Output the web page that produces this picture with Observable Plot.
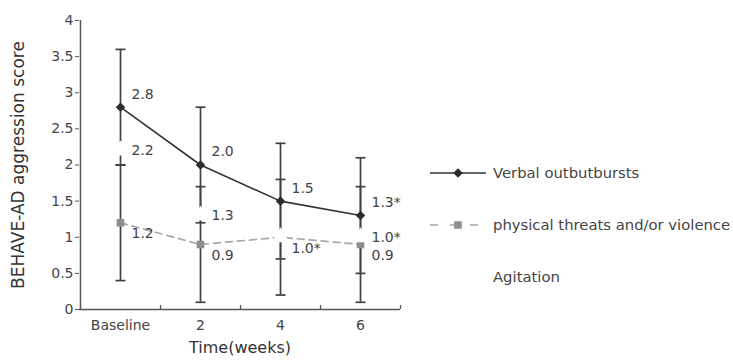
<!DOCTYPE html>
<html><head><meta charset="utf-8">
<script src="https://cdn.jsdelivr.net/npm/d3@7"></script>
<script src="https://cdn.jsdelivr.net/npm/@observablehq/plot@0.6"></script>
<style>
html,body{margin:0;padding:0;background:#fff;}
#wrap{position:relative;width:733px;height:360px;overflow:hidden;font-family:"DejaVu Sans",sans-serif;}
#wrap svg.legend{position:absolute;left:0;top:0;}
</style></head><body><div id="wrap"></div>
<script>
const weeks = ["Baseline", "2", "4", "6"];
const seriesNames = ["Verbal outbutbursts", "physical threats and/or violence", "Agitation"];
const verbal = [2.8, 2.0, 1.5, 1.3];
const verbalSD = [0.8, 0.8, 0.8, 0.8];
const physical = [1.2, 0.9, 1.0, 0.9];
const physicalSD = [0.8, 0.8, 0.8, 0.8];
const agitation = [2.2, 1.3, 1.0, 1.0];
const verbalLabels = ["2.8", "2.0", "1.5", "1.3*"];
const physicalLabels = ["1.2", "0.9", "1.0*", "0.9"];
const agitationLabels = ["2.2", "1.3", "", "1.0*"];
const yTicks = [0, 0.5, 1, 1.5, 2, 2.5, 3, 3.5, 4];
const xTitle = "Time(weeks)";
const yTitle = "BEHAVE-AD aggression score";

const mk = (vals, sds, labels) => weeks.map((w, i) => ({week: w, value: vals[i], sd: sds ? sds[i] : 0, label: labels[i]}));
const verbalRows = mk(verbal, verbalSD, verbalLabels);
const physicalRows = mk(physical, physicalSD, physicalLabels);
const agitationRows = mk(agitation, null, agitationLabels);
const barRows = [...verbalRows, ...physicalRows];
const capRows = barRows.flatMap(d => [d.value - d.sd, d.value + d.sd].map(v => ({week: d.week, v})));

const capSymbol = {draw(ctx, size) { const w = Math.sqrt(size / Math.PI); ctx.moveTo(-w, 0); ctx.lineTo(w, 0); }};
const barColor = "#3e433f";
const textColor = "#444";

const chart = Plot.plot({
  width: 733, height: 360,
  marginLeft: 79, marginRight: 333, marginTop: 20, marginBottom: 51,
  style: {fontFamily: "DejaVu Sans, sans-serif", fontSize: "14px", color: textColor, background: "transparent", overflow: "visible"},
  x: {type: "point", domain: weeks, padding: 0.5},
  y: {domain: [0, 4]},
  marks: [
    Plot.ruleX(barRows, {x: "week", y1: d => d.value - d.sd, y2: d => d.value + d.sd, stroke: barColor, strokeWidth: 1.7}),
    Plot.dot(capRows, {x: "week", y: "v", symbol: capSymbol, r: 5, stroke: barColor, strokeWidth: 1.7, fill: "none"}),
    Plot.ruleY([0], {stroke: "#555", strokeWidth: 1.5}),
    Plot.ruleX([weeks[0]], {dx: -40, y1: 0, y2: 4, stroke: "#555", strokeWidth: 1.5}),
    Plot.ruleX(weeks, {x: d => d, dx: 40, y1: 0, y2: 0, insetTop: -4, stroke: "#555", strokeWidth: 1.3}),
    Plot.line(agitationRows, {x: "week", y: "value", stroke: "white", strokeWidth: 1.5}),
    Plot.line(physicalRows, {x: "week", y: "value", stroke: "#a8a8a8", strokeWidth: 1.7, strokeDasharray: "7,5"}),
    Plot.dot(physicalRows, {x: "week", y: "value", symbol: "square", r: 4.3, fill: "#8e8e8e"}),
    Plot.line(verbalRows, {x: "week", y: "value", stroke: "#333", strokeWidth: 1.6}),
    Plot.dot(verbalRows, {x: "week", y: "value", symbol: "diamond2", r: 4.3, fill: "#2d2d2d"}),
    Plot.dot(agitationRows, {x: "week", y: "value", symbol: "triangle", r: 5.5, fill: "white", stroke: "white"}),
    Plot.text(verbalRows, {x: "week", y: "value", text: "label", dx: 11, dy: -13, textAnchor: "start", fontSize: 14, fill: textColor}),
    Plot.text(agitationRows, {x: "week", y: "value", text: "label", dx: 11, dy: 0, textAnchor: "start", fontSize: 14, fill: textColor}),
    Plot.text(physicalRows, {x: "week", y: "value", text: "label", dx: 11, dy: 11, textAnchor: "start", fontSize: 14, fill: textColor}),
    Plot.axisY({ticks: yTicks, tickFormat: d => String(d), tickSize: 4, tickPadding: 2, fontSize: 14, label: null, stroke: "#555"}),
    Plot.axisX({tickSize: 0, tickPadding: 11, fontSize: 14, label: null}),
    Plot.text([xTitle], {frameAnchor: "bottom", dy: 43, fontSize: 16, fill: "#333"}),
    Plot.text([yTitle], {frameAnchor: "left", textAnchor: "middle", rotate: -90, dx: -61, fontSize: 17, fill: "#333"})
  ]
});
const wrap = document.getElementById("wrap");
wrap.appendChild(chart);

// legend
const leg = d3.select(wrap).append("svg").attr("class", "legend").attr("width", 733).attr("height", 360);
const rowY = [173, 225, 277];
const styles = [
  {stroke: "#333", dash: null, sym: d3.symbolDiamond2, fill: "#2d2d2d"},
  {stroke: "#a8a8a8", dash: "8,12", sym: d3.symbolSquare, fill: "#8e8e8e"},
  {stroke: "white", dash: null, sym: d3.symbolTriangle, fill: "white"}
];
seriesNames.forEach((name, i) => {
  const g = leg.append("g").attr("transform", `translate(0,${rowY[i]})`);
  const s = styles[i];
  const ln = g.append("line").attr("x1", 430).attr("x2", 486).attr("y1", 0).attr("y2", 0)
    .attr("stroke", s.stroke).attr("stroke-width", 1.6);
  if (s.dash) ln.attr("stroke-dasharray", s.dash);
  g.append("path").attr("d", d3.symbol(s.sym, 58)()).attr("transform", "translate(458,0)").attr("fill", s.fill);
  g.append("text").attr("x", 493).attr("y", 0).attr("dy", "0.35em")
    .attr("font-family", "DejaVu Sans, sans-serif").attr("font-size", 14.8).attr("fill", textColor).text(name);
});
</script></body></html>
